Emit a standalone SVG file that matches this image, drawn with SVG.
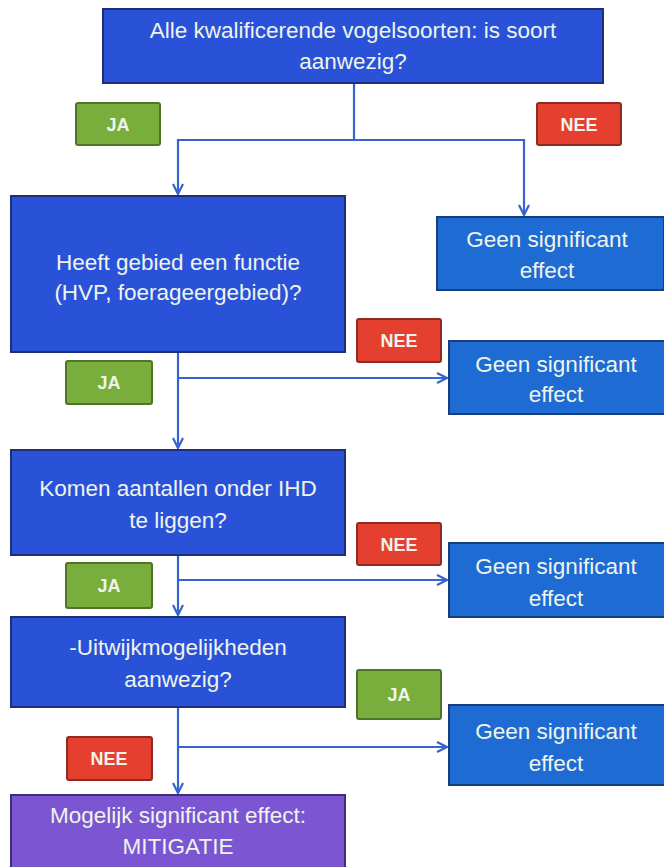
<svg xmlns="http://www.w3.org/2000/svg" width="664" height="867" viewBox="0 0 664 867">
<style>
.q{fill:#2a52d8;stroke:#1d2f78;stroke-width:2}
.g{fill:#1f6bd4;stroke:#173f7e;stroke-width:2}
.p{fill:#7b55d2;stroke:#3d2d7a;stroke-width:2}
.ja{fill:#79ad3c;stroke:#4d7428;stroke-width:2}
.nee{fill:#e5402f;stroke:#8e2a20;stroke-width:2}
text{font-family:"Liberation Sans",Arial,sans-serif;fill:#eef4ea;text-anchor:middle;font-size:22.5px}
.lb{font-weight:bold;font-size:18px}
.c{fill:none;stroke:#3763cf;stroke-width:2.2}
</style>
<defs>
<marker id="ar" viewBox="0 0 12 12" refX="11" refY="6" markerWidth="12" markerHeight="12" markerUnits="userSpaceOnUse" orient="auto">
<path d="M1,1 L11,6 L1,11" fill="none" stroke="#3763cf" stroke-width="2.2"/>
</marker>
</defs>
<rect width="664" height="867" fill="#ffffff"/>
<g id="connectors">
<path class="c" d="M354,83 V140 H178 V194" marker-end="url(#ar)"/>
<path class="c" d="M354,140 H524 V215" marker-end="url(#ar)"/>
<path class="c" d="M178,352 V448" marker-end="url(#ar)"/>
<path class="c" d="M178,378 H447" marker-end="url(#ar)"/>
<path class="c" d="M178,555 V615" marker-end="url(#ar)"/>
<path class="c" d="M178,580 H447" marker-end="url(#ar)"/>
<path class="c" d="M178,707 V793" marker-end="url(#ar)"/>
<path class="c" d="M178,747 H447" marker-end="url(#ar)"/>
</g>
<g id="q1"><rect class="q" x="103" y="9" width="500" height="74"/><text x="353" y="38">Alle kwalificerende  vogelsoorten:  is soort</text><text x="353" y="69">aanwezig?</text></g>
<g id="ja1"><rect class="ja" x="76" y="103" width="84" height="42" rx="2"/><text class="lb" x="118" y="131">JA</text></g>
<g id="nee1"><rect class="nee" x="537" y="103" width="84" height="42" rx="2"/><text class="lb" x="579" y="131">NEE</text></g>
<g id="q2"><rect class="q" x="11" y="196" width="334" height="156"/><text x="178" y="270">Heeft gebied een functie</text><text x="178" y="300">(HVP, foerageergebied)?</text></g>
<g id="geen1"><rect class="g" x="437" y="217" width="227" height="73"/><text x="547" y="247">Geen  significant</text><text x="547" y="278">effect</text></g>
<g id="nee2"><rect class="nee" x="357" y="319" width="84" height="43" rx="2"/><text class="lb" x="399" y="347">NEE</text></g>
<g id="geen2"><rect class="g" x="449" y="341" width="216" height="73"/><text x="556" y="372">Geen  significant</text><text x="556" y="402">effect</text></g>
<g id="ja2"><rect class="ja" x="66" y="361" width="86" height="43" rx="2"/><text class="lb" x="109" y="389">JA</text></g>
<g id="q3"><rect class="q" x="11" y="450" width="334" height="105"/><text x="178" y="496">Komen aantallen onder IHD</text><text x="178" y="528">te liggen?</text></g>
<g id="nee3"><rect class="nee" x="357" y="523" width="84" height="42" rx="2"/><text class="lb" x="399" y="551">NEE</text></g>
<g id="geen3"><rect class="g" x="449" y="543" width="216" height="74"/><text x="556" y="574">Geen  significant</text><text x="556" y="606">effect</text></g>
<g id="ja3"><rect class="ja" x="66" y="563" width="86" height="45" rx="2"/><text class="lb" x="109" y="592">JA</text></g>
<g id="q4"><rect class="q" x="11" y="617" width="334" height="90"/><text x="178" y="655">-Uitwijkmogelijkheden</text><text x="178" y="687">aanwezig?</text></g>
<g id="ja4"><rect class="ja" x="357" y="670" width="84" height="49" rx="2"/><text class="lb" x="399" y="701">JA</text></g>
<g id="geen4"><rect class="g" x="449" y="705" width="216" height="80"/><text x="556" y="739">Geen  significant</text><text x="556" y="771">effect</text></g>
<g id="nee4"><rect class="nee" x="67" y="737" width="85" height="43" rx="2"/><text class="lb" x="109" y="765">NEE</text></g>
<g id="mitigatie"><rect class="p" x="11" y="795" width="334" height="80"/><text x="178" y="823">Mogelijk significant effect:</text><text x="178" y="854">MITIGATIE</text></g>
</svg>
